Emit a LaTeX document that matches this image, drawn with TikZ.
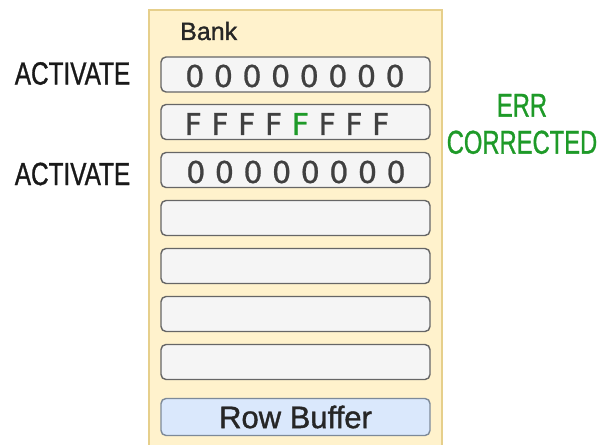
\documentclass[tikz,border=0pt]{standalone}
\usepackage{fontspec}
\setmainfont{Liberation Sans}[BoldFont={Liberation Sans},BoldFeatures={FakeBold=1.2}]
\newfontfamily\digitfont{DejaVu Sans}[BoldFont={DejaVu Sans},BoldFeatures={FakeBold=0.8}]
\definecolor{bankfill}{HTML}{FFF2CC}
\definecolor{bankline}{HTML}{E6CF8B}
\definecolor{rowfill}{HTML}{F5F5F5}
\definecolor{rowline}{HTML}{666666}
\definecolor{buffill}{HTML}{DAE8FC}
\definecolor{buffline}{HTML}{7D8A99}
\definecolor{okgreen}{HTML}{1E9A28}
\begin{document}
\begin{tikzpicture}[x=1pt,y=-1pt,
  rowbox/.style={draw=rowline,fill=rowfill,line width=1.4pt,rounded corners=5pt,
    minimum width=269pt,minimum height=35pt,inner sep=0pt},
  bufbox/.style={rowbox,draw=buffline,fill=buffill,minimum height=37pt},
  bits/.style={font=\digitfont\bfseries\fontsize{30}{30}\selectfont,text=black!75},
  cmdlabel/.style={font=\bfseries\fontsize{32}{32}\selectfont,text=black!90,inner sep=0pt},
  note/.style={font=\bfseries\fontsize{33}{37}\selectfont,text=okgreen,align=center,inner sep=0pt}]
\useasboundingbox (0,0) rectangle (599,444);
% bank outline (continues below the page edge)
\draw[bankline,fill=bankfill,line width=1.2pt] (149,10) rectangle (442,452);
\node[anchor=base west,font=\bfseries\fontsize{25}{25}\selectfont,text=black!85,inner sep=0pt] (bank) at (180,40) {Bank};
% rows of the bank
\node[rowbox] (r1) at (295.5,74.5) {};
\node[rowbox] (r2) at (295.5,122) {};
\node[rowbox] (r3) at (295.5,170) {};
\node[rowbox] (r4) at (295.5,218) {};
\node[rowbox] (r5) at (295.5,266) {};
\node[rowbox] (r6) at (295.5,314) {};
\node[rowbox] (r7) at (295.5,362) {};
\node[bufbox,font=\bfseries\fontsize{31}{31}\selectfont,text=black!85] (buf) at (295.5,417) {Row Buffer};
% row contents
\node[bits] (b1) at (295,76) {0 0 0 0 0 0 0 0};
\node[bits] (b2) at (287,124) {F F F F \textcolor{okgreen}{F} F F F};
\node[bits] (b3) at (296,172) {0 0 0 0 0 0 0 0};
% commands and annotations
\node[cmdlabel] (act1) at (72.5,73.5) {\scalebox{0.76}[1]{ACTIVATE}};
\node[cmdlabel] (act2) at (72.5,174) {\scalebox{0.76}[1]{ACTIVATE}};
\node[note] (err) at (522,124) {\scalebox{0.72}[1]{ERR}\\\scalebox{0.72}[1]{CORRECTED}};
\end{tikzpicture}
\end{document}
